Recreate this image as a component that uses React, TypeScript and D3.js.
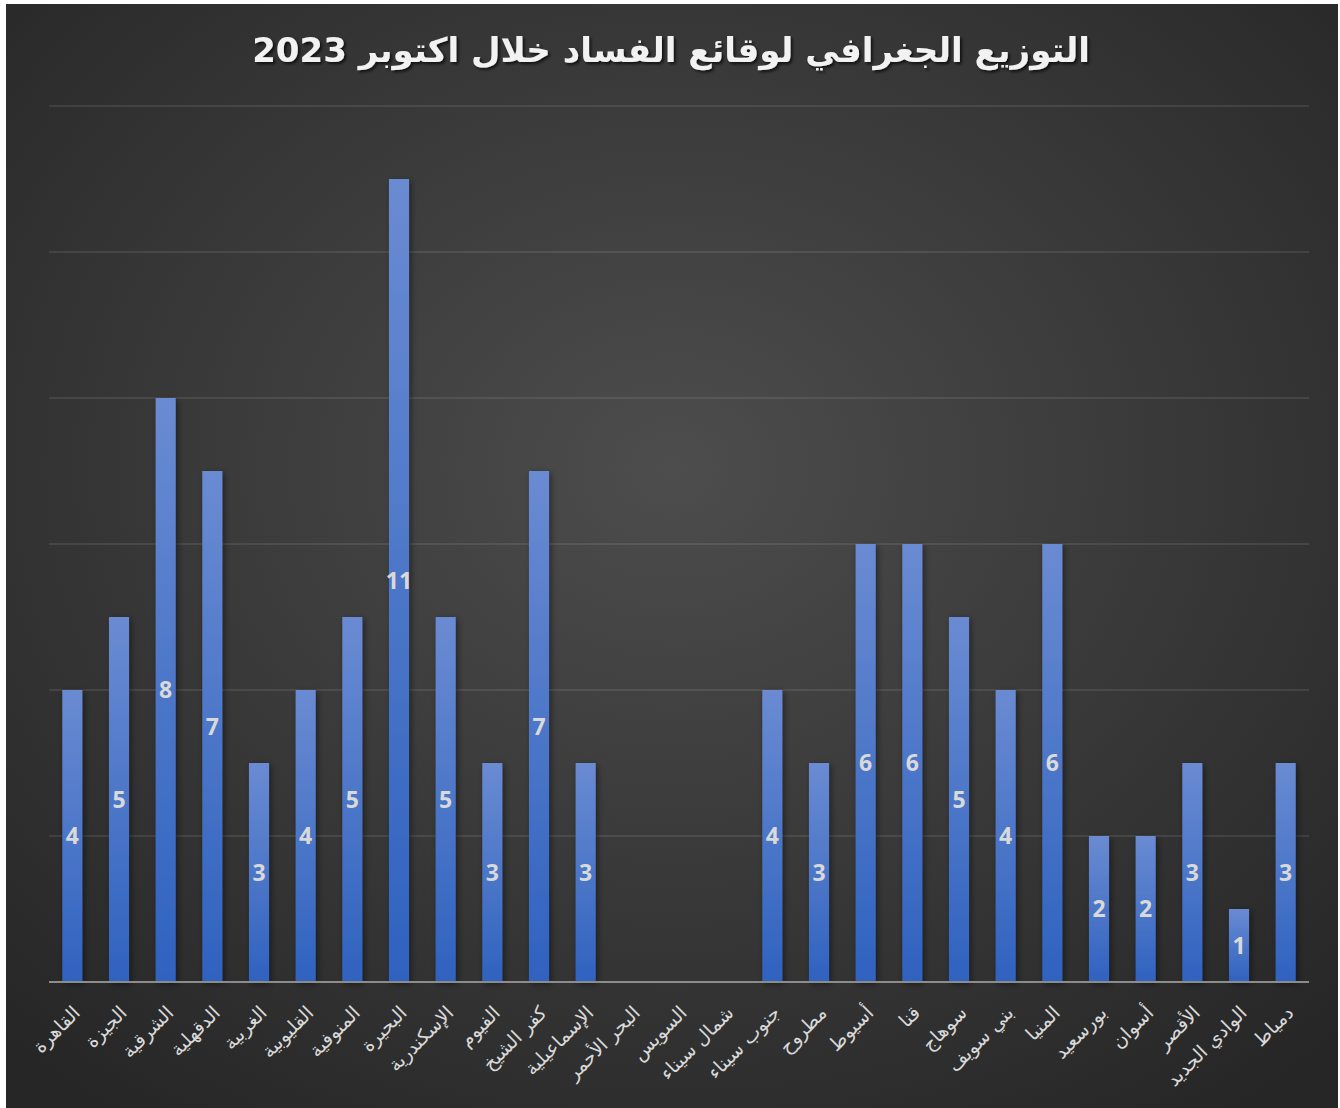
import { useMemo } from "react";
import * as d3 from "d3";

// governorates, in chart order
const categories = [
  "القاهرة", "الجيزة", "الشرقية", "الدقهلية", "الغربية", "القليوبية",
  "المنوفية", "البحيرة", "الإسكندرية", "الفيوم", "كفر الشيخ", "الإسماعيلية",
  "البحر الأحمر", "السويس", "شمال سيناء", "جنوب سيناء", "مطروح", "أسيوط",
  "قنا", "سوهاج", "بني سويف", "المنيا", "بورسعيد", "أسوان", "الأقصر",
  "الوادي الجديد", "دمياط",
];
const values = [
  4, 5, 8, 7, 3, 4, 5, 11, 5, 3, 7, 3, 0, 0, 0, 4, 3, 6, 6, 5, 4, 6, 2, 2, 3, 1, 3,
];
const gridTicks = [0, 2, 4, 6, 8, 10, 12];
const title = "التوزيع الجغرافي لوقائع الفساد خلال اكتوبر 2023";

const W = 1340;
const H = 1108;
const margin = { left: 49, right: 31, top: 106, bottom: 126 };

export default function App() {
  const x = useMemo(
    () =>
      d3
        .scaleBand<string>()
        .domain(categories)
        .range([margin.left, W - margin.right])
        .paddingInner(0.57)
        .paddingOuter(0.285),
    []
  );
  const y = useMemo(
    () => d3.scaleLinear().domain([0, 12]).range([H - margin.bottom, margin.top]),
    []
  );

  const data = categories.map((c, i) => ({ c, v: values[i] }));
  const bw = x.bandwidth();

  return (
    <div style={{ position: "absolute", left: 0, top: 0 }}>
      <svg width={W} height={H} style={{ display: "block" }}>
        <defs>
          <radialGradient id="bg" cx="50%" cy="42%" r="72%">
            <stop offset="0%" stopColor="#4d4d4d" />
            <stop offset="100%" stopColor="#262626" />
          </radialGradient>
          <linearGradient id="bar" x1="0" y1="0" x2="0" y2="1">
            <stop offset="0%" stopColor="#6a8bd2" />
            <stop offset="100%" stopColor="#2f62bf" />
          </linearGradient>
          <filter id="shadow" x="-50%" y="-10%" width="200%" height="120%">
            <feDropShadow dx="2" dy="2" stdDeviation="3" floodColor="#000" floodOpacity="0.45" />
          </filter>
          <filter id="tshadow" x="-5%" y="-20%" width="110%" height="150%">
            <feDropShadow dx="2" dy="2" stdDeviation="1.5" floodColor="#000" floodOpacity="0.7" />
          </filter>
        </defs>
        <rect x={0} y={0} width={W} height={H} fill="#ffffff" />
        <rect x={6} y={4} width={W - 8} height={H - 4} fill="url(#bg)" />

        <text
          x={671}
          y={62}
          textAnchor="middle"
          fill="#f2f2f2"
          fontFamily="'DejaVu Sans', 'Liberation Sans', sans-serif"
          fontWeight="bold"
          fontSize={34}
          filter="url(#tshadow)"
        >
          {title}
        </text>

        {gridTicks
          .filter((t) => t > 0)
          .map((t) => (
            <line
              key={t}
              x1={margin.left}
              x2={W - margin.right}
              y1={y(t)}
              y2={y(t)}
              stroke="#ffffff"
              strokeOpacity={0.12}
              strokeWidth={1.5}
            />
          ))}

        {data.map((d) =>
          d.v > 0 ? (
            <rect
              key={d.c}
              x={x(d.c)}
              y={y(d.v)}
              width={bw}
              height={y(0) - y(d.v)}
              fill="url(#bar)"
              filter="url(#shadow)"
            />
          ) : null
        )}

        <line
          x1={margin.left}
          x2={W - margin.right}
          y1={y(0)}
          y2={y(0)}
          stroke="#8c8c8c"
          strokeWidth={2}
        />

        {data.map((d) =>
          d.v > 0 ? (
            <text
              key={d.c + "v"}
              x={(x(d.c) as number) + bw / 2}
              y={(y(d.v) + y(0)) / 2}
              dy="0.36em"
              textAnchor="middle"
              fill="#d9d9d9"
              fontFamily="'Open Sans', 'Liberation Sans', sans-serif"
              fontWeight="bold"
              fontSize={23}
            >
              {d.v}
            </text>
          ) : null
        )}

        {data.map((d) => {
          const cx = (x(d.c) as number) + bw / 2 + 9;
          const cy = y(0) + 32;
          return (
            <text
              key={d.c + "l"}
              transform={`translate(${cx},${cy}) rotate(-45)`}
              textAnchor="end"
              fill="#d9d9d9"
              fontFamily="'DejaVu Sans', sans-serif"
              fontSize={19}
            >
              {d.c}
            </text>
          );
        })}
      </svg>
    </div>
  );
}
